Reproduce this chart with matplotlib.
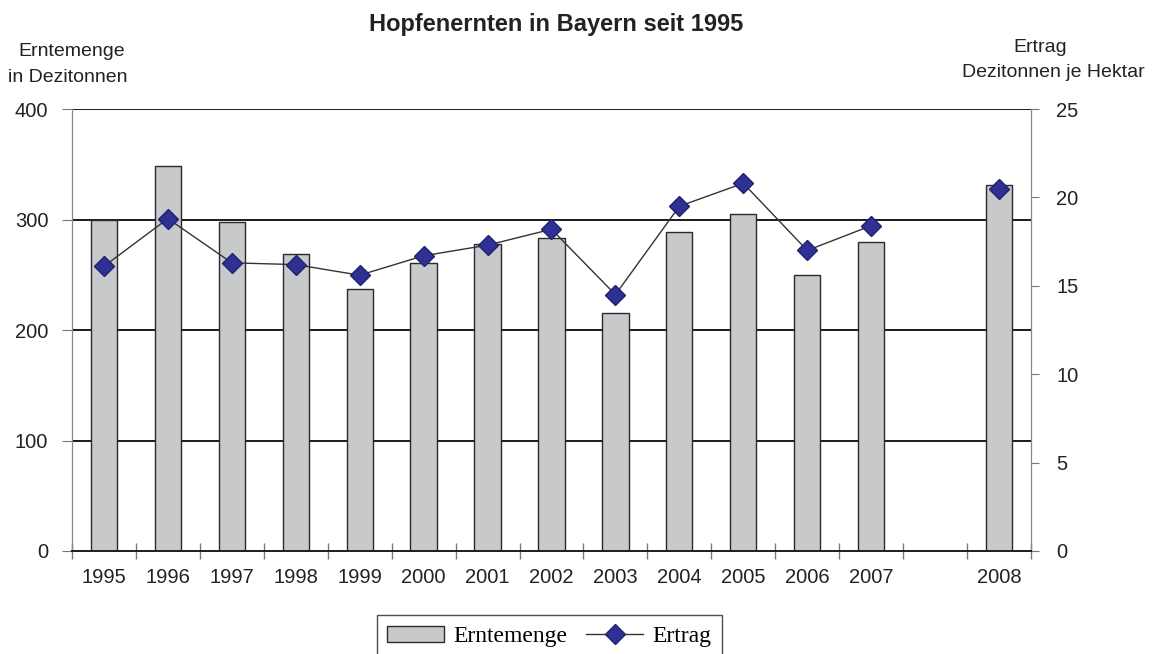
import numpy as np
import matplotlib
matplotlib.use("Agg")
import matplotlib.pyplot as plt

# data
years = ["1995", "1996", "1997", "1998", "1999", "2000", "2001",
         "2002", "2003", "2004", "2005", "2006", "2007", "", "2008"]
erntemenge = [300, 348, 298, 269, 237, 261, 278, 283, 215, 289, 305, 250, 280, np.nan, 331]
ertrag = [16.1, 18.8, 16.3, 16.2, 15.6, 16.7, 17.3, 18.2, 14.5, 19.5, 20.8, 17.0, 18.4, np.nan, 20.5]

plt.rcParams["font.family"] = ["Liberation Sans", "DejaVu Sans"]

fig = plt.figure(figsize=(11.53, 6.54), dpi=100)
ax = fig.add_axes([0.0624, 0.1575, 0.8318, 0.6758])
ax2 = ax.twinx()

x = np.arange(len(years))
bars = ax.bar(x, erntemenge, width=0.41, color="#c8c9cb", edgecolor="#2a2a2a",
              linewidth=1.0, zorder=3, label="Erntemenge")
ax.set_xlim(-0.5, len(years) - 0.5)
ax.set_ylim(0, 400)
ax.set_yticks([0, 100, 200, 300, 400])
ax.grid(axis="y", color="#1a1a1a", linewidth=1.4, zorder=1)
ax.set_axisbelow(True)

line, = ax2.plot(x, ertrag, color="#333333", linewidth=1.0, marker="D",
                 markersize=10, markerfacecolor="#2e3192", markeredgecolor="#1e2270",
                 zorder=5, label="Ertrag")
ax2.set_ylim(0, 25)
ax2.set_yticks([0, 5, 10, 15, 20, 25])
ax.set_zorder(ax2.get_zorder() - 1)
ax.patch.set_visible(False)

ax.set_xticks(x)
ax.set_xticklabels(years)
ax.set_xticks(np.arange(-0.5, len(years)), minor=True)
ax.tick_params(axis="x", which="major", length=0, pad=12, labelsize=14.5, labelcolor="#222222")
ax.tick_params(axis="x", which="minor", direction="inout", length=12, color="#777777", width=1)
ax.tick_params(axis="y", direction="out", length=7, color="#777777", labelsize=14.5,
               labelcolor="#222222", pad=10)
ax2.tick_params(axis="y", direction="out", length=6, color="#777777", labelsize=14.5,
                labelcolor="#222222", pad=12)

for a in (ax, ax2):
    a.spines["top"].set_visible(False)
    a.spines["left"].set_color("#888888")
    a.spines["right"].set_color("#888888")
    a.spines["bottom"].set_color("#222222")
    a.spines["bottom"].set_linewidth(1.4)

fig.text(0.482, 0.962, "Hopfenernten in Bayern seit 1995", ha="center", va="center",
         fontsize=17, fontweight="bold", color="#222222")
fig.text(0.062, 0.921, "Erntemenge", ha="center", va="center", fontsize=14, color="#222222")
fig.text(0.059, 0.882, "in Dezitonnen", ha="center", va="center", fontsize=14, color="#222222")
fig.text(0.902, 0.928, "Ertrag", ha="center", va="center", fontsize=14, color="#222222")
fig.text(0.914, 0.889, "Dezitonnen je Hektar", ha="center", va="center", fontsize=14,
         color="#222222")

leg = fig.legend([bars, line], ["Erntemenge", "Ertrag"], loc="upper center",
                 bbox_to_anchor=(0.4766, 0.0596), ncol=2, frameon=True, fancybox=False,
                 edgecolor="#222222", prop={"family": "Liberation Serif", "size": 17},
                 handlelength=2.4, columnspacing=0.8, handletextpad=0.4, borderpad=0.45,
                 borderaxespad=0)
leg.get_frame().set_linewidth(1.0)

fig.savefig("out.png", dpi=100)
